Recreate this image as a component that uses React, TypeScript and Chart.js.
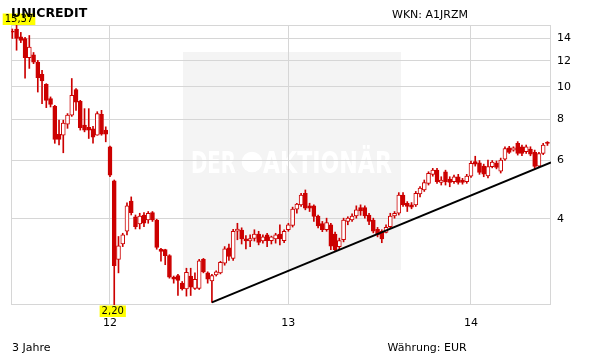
import React, { useEffect, useRef } from "react";
import { Chart, registerables } from "chart.js";

Chart.register(...registerables);

const TITLE = "UNICREDIT";
const WKN = "WKN: A1JRZM";
const PERIOD = "3 Jahre";
const CURRENCY = "Währung: EUR";
const WATERMARK_LEFT = "DER";
const WATERMARK_RIGHT = "AKTIONÄR";

const OPEN = [
  14.7, 14.95, 14.15, 13.98, 12.25, 12.5, 11.88, 10.92, 10.18, 9.22,
  8.74, 7.2, 7.15, 7.72, 8.22, 9.82, 9.05, 7.67, 7.55, 7.48,
  7.15, 8.27, 7.41, 6.6, 5.21, 3.02, 3.36, 3.67, 4.53, 4.06,
  3.86, 4.11, 3.97, 4.18, 3.97, 3.24, 3.23, 3.1, 2.67, 2.7,
  2.56, 2.46, 2.69, 2.47, 2.47, 3.02, 2.75, 2.6, 2.71, 2.75,
  2.94, 3.27, 3.04, 3.67, 3.7, 3.48, 3.43, 3.49, 3.6, 3.43,
  3.58, 3.44, 3.48, 3.6, 3.44, 3.71, 3.82, 4.28, 4.41, 4.78,
  4.38, 4.38, 4.08, 3.87, 3.71, 3.84, 3.6, 3.3, 3.46, 3.93,
  3.97, 4.08, 4.33, 4.33, 4.11, 3.97, 3.72, 3.67, 3.64, 3.79,
  4.08, 4.16, 4.72, 4.46, 4.41, 4.41, 4.76, 4.89, 5.12, 5.45,
  5.61, 5.15, 5.55, 5.27, 5.18, 5.36, 5.24, 5.18, 5.38, 5.95,
  5.9, 5.77, 5.39, 5.75, 5.89, 5.57, 6.05, 6.55, 6.45, 6.76,
  6.6, 6.38, 6.5, 6.35, 5.77, 6.3, 6.8,
];
const CLOSE = [
  14.62, 14.0, 13.8, 12.25, 13.18, 11.88, 10.67, 10.42, 9.11, 8.86,
  6.94, 6.95, 7.78, 8.22, 9.43, 9.0, 7.53, 7.41, 7.41, 7.05,
  8.31, 7.2, 7.2, 5.42, 2.89, 3.32, 3.58, 4.38, 4.18, 3.79,
  4.08, 3.88, 4.16, 3.97, 3.28, 3.19, 3.1, 2.67, 2.63, 2.61,
  2.46, 2.76, 2.49, 2.63, 2.99, 2.77, 2.63, 2.7, 2.77, 2.96,
  3.25, 3.08, 3.67, 3.73, 3.48, 3.43, 3.49, 3.6, 3.4, 3.53,
  3.44, 3.53, 3.58, 3.48, 3.67, 3.84, 4.28, 4.43, 4.72, 4.31,
  4.31, 4.07, 3.81, 3.71, 3.9, 3.31, 3.23, 3.44, 3.97, 4.02,
  4.08, 4.26, 4.23, 4.08, 3.93, 3.67, 3.58, 3.48, 3.77, 4.08,
  4.16, 4.72, 4.41, 4.36, 4.34, 4.78, 4.95, 5.15, 5.49, 5.61,
  5.18, 5.24, 5.18, 5.15, 5.36, 5.15, 5.15, 5.38, 5.88, 5.85,
  5.52, 5.46, 5.75, 5.93, 5.72, 6.02, 6.52, 6.35, 6.55, 6.3,
  6.3, 6.6, 6.27, 5.76, 6.3, 6.68, 6.76,
];
const HIGH = [
  14.95, 15.37, 14.6, 14.1, 14.29, 12.7, 12.02, 11.22, 10.23, 9.33,
  8.8, 7.94, 7.94, 8.31, 10.6, 9.88, 9.11, 8.6, 8.6, 7.6,
  8.42, 8.5, 7.58, 6.63, 5.24, 3.54, 3.62, 4.47, 4.66, 4.11,
  4.16, 4.18, 4.21, 4.21, 3.99, 3.26, 3.24, 3.12, 2.69, 2.72,
  2.59, 2.84, 2.84, 2.75, 3.02, 3.04, 2.77, 2.72, 2.79, 2.98,
  3.3, 3.36, 3.72, 3.88, 3.76, 3.56, 3.58, 3.71, 3.67, 3.58,
  3.62, 3.55, 3.62, 3.84, 3.71, 3.88, 4.34, 4.46, 4.78, 4.89,
  4.46, 4.41, 4.11, 3.93, 4.02, 3.88, 3.65, 3.5, 4.02, 4.06,
  4.14, 4.38, 4.41, 4.38, 4.16, 4.02, 3.77, 3.71, 3.84, 4.16,
  4.21, 4.8, 4.8, 4.51, 4.48, 4.84, 5.01, 5.24, 5.55, 5.68,
  5.68, 5.36, 5.61, 5.36, 5.42, 5.45, 5.3, 5.45, 5.98, 6.18,
  6.0, 5.85, 6.02, 6.0, 5.98, 6.1, 6.6, 6.62, 6.6, 6.84,
  6.68, 6.68, 6.6, 6.45, 6.35, 6.76, 6.84,
];
const LOW = [
  14.0, 12.9, 13.6, 10.62, 11.37, 11.75, 9.65, 8.9, 8.66, 8.7,
  6.76, 6.68, 6.33, 7.5, 8.15, 8.5, 7.41, 7.32, 6.99, 6.77,
  7.15, 7.15, 6.83, 5.36, 2.2, 2.75, 3.3, 3.58, 4.11, 3.73,
  3.73, 3.79, 3.88, 3.93, 3.24, 2.98, 2.91, 2.65, 2.56, 2.35,
  2.44, 2.34, 2.35, 2.45, 2.45, 2.75, 2.56, 2.24, 2.69, 2.73,
  2.9, 3.0, 3.0, 3.46, 3.36, 3.25, 3.3, 3.43, 3.34, 3.38,
  3.3, 3.36, 3.38, 3.34, 3.39, 3.67, 3.78, 4.16, 4.36, 4.26,
  4.21, 3.93, 3.76, 3.66, 3.67, 3.23, 3.19, 3.23, 3.41, 3.84,
  3.93, 4.02, 4.1, 4.02, 3.84, 3.63, 3.53, 3.39, 3.63, 3.76,
  4.02, 4.11, 4.36, 4.21, 4.29, 4.36, 4.66, 4.84, 5.06, 5.38,
  5.12, 5.06, 5.06, 5.0, 5.12, 5.09, 5.09, 5.12, 5.33, 5.77,
  5.45, 5.36, 5.32, 5.7, 5.66, 5.5, 6.0, 6.3, 6.4, 6.23,
  6.2, 6.3, 6.2, 5.68, 5.72, 6.25, 6.66,
];

const Y_TICKS = [4, 6, 8, 10, 12, 14];
const Y_MIN = 2.2;
const Y_MAX = 15.37;
const YEAR_TICK_IDX = [23, 65, 108];
const YEAR_LABELS = ["12", "13", "14"];
const X_MIN = -0.31;
const X_MAX = 126.84;
const TREND_IDX = [47, 126.84];
const TREND_VAL = [2.24, 5.92];

const RED = "#cc0000";
const GRID = "#d6d6d6";
const FONT = '"DejaVu Sans", Verdana, sans-serif';

const fmt = (v: number) => v.toFixed(2).replace(".", ",");

const decorPlugin = {
  id: "decor",
  beforeDraw(chart: any) {
    const ctx = chart.ctx;
    ctx.save();
    ctx.fillStyle = "#ffffff";
    ctx.fillRect(0, 0, chart.width, chart.height);
    // watermark
    ctx.fillStyle = "#f4f4f4";
    ctx.fillRect(183, 52, 218, 218);
    ctx.fillStyle = "#ffffff";
    ctx.font = 'bold 30px "Liberation Sans Narrow", "DejaVu Sans Condensed", sans-serif';
    ctx.textBaseline = "alphabetic";
    const base = 173;
    const drawFit = (t: string, x0: number, w: number) => {
      const mw = ctx.measureText(t).width;
      ctx.save();
      ctx.translate(x0, base);
      ctx.scale(w / mw, 1);
      ctx.fillText(t, 0, 0);
      ctx.restore();
    };
    drawFit(WATERMARK_LEFT, 191, 45);
    ctx.beginPath();
    ctx.arc(252, 162, 10.3, 0, Math.PI * 2);
    ctx.fill();
    drawFit(WATERMARK_RIGHT, 263, 129);
    ctx.restore();
  },
  beforeDatasetsDraw(chart: any) {
    const { ctx, chartArea } = chart;
    ctx.save();
    ctx.strokeStyle = GRID;
    ctx.lineWidth = 1;
    ctx.strokeRect(
      Math.round(chartArea.left) + 0.5,
      Math.round(chartArea.top) + 0.5,
      Math.round(chartArea.right - chartArea.left) - 1,
      Math.round(chartArea.bottom - chartArea.top) - 1
    );
    ctx.restore();
  },
  afterDatasetsDraw(chart: any) {
    const { ctx } = chart;
    const xs = chart.scales.x;
    const ys = chart.scales.y;
    const hi = Math.max(...HIGH);
    const lo = Math.min(...LOW);
    const iHi = HIGH.indexOf(hi);
    const iLo = LOW.indexOf(lo);
    ctx.save();
    ctx.font = `10px ${FONT}`;
    ctx.textAlign = "center";
    ctx.textBaseline = "middle";
    const box = (t: string, cx: number, top: number) => {
      const w = ctx.measureText(t).width + 4;
      let left = cx - w / 2;
      if (left < 2.7) left = 2.7;
      ctx.fillStyle = "#ffff00";
      ctx.fillRect(left, top, w, 11.5);
      ctx.fillStyle = "#000000";
      ctx.fillText(t, left + w / 2, top + 6.2);
    };
    box(fmt(hi), xs.getPixelForValue(iHi), ys.getPixelForValue(hi) - 11.5);
    box(fmt(lo), xs.getPixelForValue(iLo) - 1.5, ys.getPixelForValue(lo) + 0.5);
    ctx.restore();
  },
};

export default function App() {
  const ref = useRef<HTMLCanvasElement | null>(null);

  useEffect(() => {
    if (!ref.current) return;
    const wicks = LOW.map((l, i) => ({ x: i, y: [l, HIGH[i]] }));
    const bodies = OPEN.map((o, i) => ({ x: i, y: [o, CLOSE[i]] }));
    const bodyFill = OPEN.map((o, i) => (CLOSE[i] >= o ? "#ffffff" : RED));
    const trend = TREND_IDX.map((x, i) => ({ x, y: TREND_VAL[i] }));

    const chart = new Chart(ref.current, {
      type: "bar",
      data: {
        datasets: [
          {
            type: "bar",
            data: wicks as any,
            backgroundColor: RED,
            borderWidth: 0,
            barThickness: 1,
            grouped: false,
            order: 3,
          } as any,
          {
            type: "bar",
            data: bodies as any,
            backgroundColor: bodyFill,
            borderColor: RED,
            borderWidth: 1,
            borderSkipped: false,
            barThickness: 4,
            minBarLength: 1,
            grouped: false,
            order: 2,
          } as any,
          {
            type: "line",
            data: trend as any,
            borderColor: "#000000",
            borderWidth: 2,
            pointRadius: 0,
            fill: false,
            order: 1,
          } as any,
        ],
      },
      options: {
        animation: false,
        responsive: false,
        maintainAspectRatio: false,
        events: [],
        layout: { padding: { left: 11, top: 25, right: 0, bottom: 0 } },
        plugins: { legend: { display: false }, tooltip: { enabled: false } },
        scales: {
          x: {
            type: "linear",
            min: X_MIN,
            max: X_MAX,
            offset: false,
            afterBuildTicks: (s: any) => {
              s.ticks = YEAR_TICK_IDX.map((v) => ({ value: v }));
            },
            afterFit: (s: any) => {
              s.height = 59;
            },
            grid: { color: GRID, drawTicks: false, lineWidth: 1, offset: false },
            border: { display: false },
            ticks: {
              padding: 12,
              color: "#000000",
              font: { family: FONT, size: 11 },
              maxRotation: 0,
              autoSkip: false,
              callback: (_v: any, i: number) => YEAR_LABELS[i],
            },
          },
          y: {
            type: "logarithmic",
            position: "right",
            min: Y_MIN,
            max: Y_MAX,
            afterBuildTicks: (s: any) => {
              s.ticks = Y_TICKS.map((v) => ({ value: v }));
            },
            afterFit: (s: any) => {
              s.width = 60;
            },
            grid: { color: GRID, drawTicks: false, lineWidth: 1 },
            border: { display: false },
            ticks: {
              padding: 6,
              color: "#000000",
              font: { family: FONT, size: 11 },
              callback: (v: any) => String(v),
            },
          },
        },
      } as any,
      plugins: [decorPlugin as any],
    });
    return () => chart.destroy();
  }, []);

  const txt: React.CSSProperties = {
    position: "absolute",
    fontFamily: FONT,
    fontSize: "11px",
    lineHeight: "13px",
    color: "#000",
    whiteSpace: "nowrap",
  };

  return (
    <div style={{ position: "absolute", left: 0, top: 0, width: 611, height: 364, background: "#fff", overflow: "hidden" }}>
      <canvas ref={ref} width={611} height={364} style={{ position: "absolute", left: 0, top: 0, width: 611, height: 364, display: "block" }} />
      <div style={{ ...txt, left: 11, top: 5, fontSize: "12.5px", lineHeight: "15px", fontWeight: "bold" }}>{TITLE}</div>
      <div style={{ ...txt, left: 392, top: 8 }}>{WKN}</div>
      <div style={{ ...txt, left: 12, top: 340.5 }}>{PERIOD}</div>
      <div style={{ ...txt, left: 387.5, top: 340.5 }}>{CURRENCY}</div>
    </div>
  );
}
